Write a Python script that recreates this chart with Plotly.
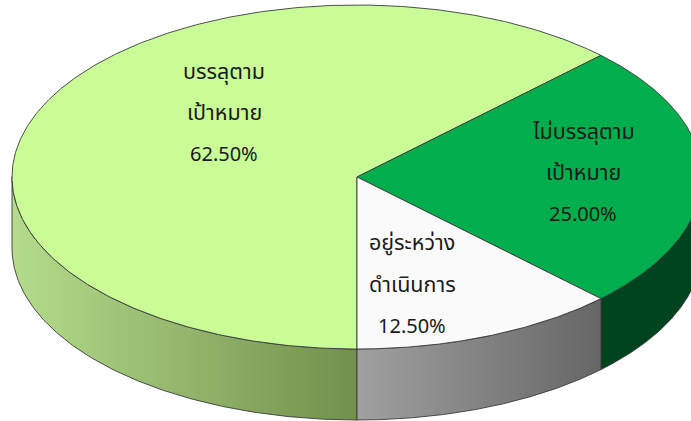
import numpy as np
import plotly.graph_objects as go

# ---- data ----
categories = ["บรรลุตาม<br>เป้าหมาย", "ไม่บรรลุตาม<br>เป้าหมาย", "อยู่ระหว่าง<br>ดำเนินการ"]
values = [62.5, 25.0, 12.5]
pct_labels = ["62.50%", "25.00%", "12.50%"]

# ---- style / geometry ----
top_colors = ["#c9fc97", "#00ae4e", "#fafafa"]
wall_grad = [["#b4dc8c", "#72904c"], ["#00441f", "#00441f"], ["#a0a0a0", "#666666"]]
label_pos = [(224, 72, 41.5), (583, 132, 41.5), (412, 243, 42)]
CX, CY, RX, RY, DEPTH = 357, 177, 345, 172, 71
START = 270.0
W, H = 691, 421
EDGE = "#3a3a3a"


def pt(theta_deg, dy=0.0):
    t = np.radians(theta_deg)
    return CX + RX * np.cos(t), CY - RY * np.sin(t) + dy


fig = go.Figure()
total = sum(values)
cum = np.concatenate([[0], np.cumsum(values)]) / total
spans = [(START - cum[i] * 360, START - cum[i + 1] * 360) for i in range(len(values))]

# walls (front half only: theta in [180, 360] mod 360)
for i, (a0, a1) in enumerate(spans):
    lo, hi = min(a0, a1), max(a0, a1)
    for k in (-1, 0, 1):
        flo, fhi = 180 + 360 * k, 360 + 360 * k
        s, e = max(lo, flo), min(hi, fhi)
        if e - s <= 1e-9:
            continue
        th = np.linspace(s, e, 200)
        xt, yt = pt(th)
        xb, yb = pt(th[::-1], DEPTH)
        xs = np.concatenate([xt, xb, xt[:1]])
        ys = np.concatenate([yt, yb, yt[:1]])
        xmin, xmax = float(np.min(xs)), float(np.max(xs))
        fig.add_trace(go.Scatter(
            x=xs, y=ys, mode="lines", fill="toself",
            fillgradient=dict(type="horizontal",
                              colorscale=[[0, wall_grad[i][0]], [1, wall_grad[i][1]]],
                              start=xmin, stop=xmax),
            line=dict(color=EDGE, width=0.9),
            hoverinfo="skip", showlegend=False))

# top faces
for i, (a0, a1) in enumerate(spans):
    th = np.linspace(a0, a1, 400)
    xa, ya = pt(th)
    xs = np.concatenate([[CX], xa, [CX]])
    ys = np.concatenate([[CY], ya, [CY]])
    fig.add_trace(go.Scatter(
        x=xs, y=ys, mode="lines", fill="toself", fillcolor=top_colors[i],
        line=dict(color=EDGE, width=0.9),
        hoverinfo="skip", showlegend=False))

# labels
FAMILY = "Tahoma, 'Leelawadee UI', 'Noto Sans Thai', 'Noto Sans', sans-serif"
for i in range(len(values)):
    x0, y0, gap = label_pos[i]
    lines = categories[i].split("<br>") + [pct_labels[i]]
    for j, txt in enumerate(lines):
        size = 20 if j == len(lines) - 1 else 21.5
        fig.add_annotation(x=x0, y=y0 + j * gap, text=txt, showarrow=False,
                           xanchor="center", yanchor="middle",
                           font=dict(family=FAMILY, size=size, color="#1a1a1a"))

fig.update_layout(
    width=W, height=H, margin=dict(l=0, r=0, t=0, b=0),
    paper_bgcolor="white", plot_bgcolor="white",
    xaxis=dict(range=[0, W], visible=False, fixedrange=True),
    yaxis=dict(range=[H, 0], visible=False, fixedrange=True),
    showlegend=False,
)
fig.write_html("out.html")
